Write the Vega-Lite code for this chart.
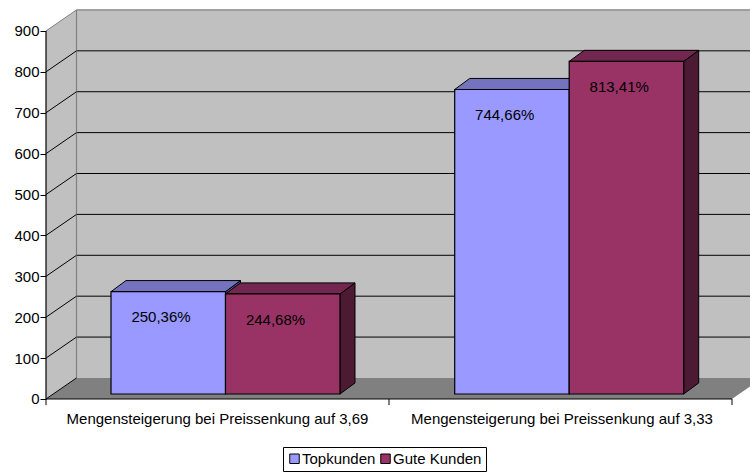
{
"$schema":"https://vega.github.io/schema/vega-lite/v6.json",
"width":704,"height":473,
"autosize":"none",
"padding":{"left":46,"top":0,"right":0,"bottom":0},
"background":"white",
"config":{"view":{"stroke":null},"font":"Liberation Sans"},
"datasets":{
"bars":[
{"category":"Mengensteigerung bei Preissenkung auf 3,69","series":"Topkunden","value":250.36,"label":"250,36%"},
{"category":"Mengensteigerung bei Preissenkung auf 3,69","series":"Gute Kunden","value":244.68,"label":"244,68%"},
{"category":"Mengensteigerung bei Preissenkung auf 3,33","series":"Topkunden","value":744.66,"label":"744,66%"},
{"category":"Mengensteigerung bei Preissenkung auf 3,33","series":"Gute Kunden","value":813.41,"label":"813,41%"}
],
"ticks":[{"tick":0},{"tick":100},{"tick":200},{"tick":300},{"tick":400},{"tick":500},{"tick":600},{"tick":700},{"tick":800},{"tick":900}],
"leftWall":[{"x":0,"low":0,"high":900},{"x":30.5,"low":51.4,"high":951.4}],
"floor":[{"y":0,"from":0,"to":686},{"y":51.4,"from":30.5,"to":716.5}],
"cats":[{"category":"Mengensteigerung bei Preissenkung auf 3,69","pos":171.5},{"category":"Mengensteigerung bei Preissenkung auf 3,33","pos":516}],
"cuts":[{"pos":0},{"pos":343},{"pos":686}]
},
"data":{"name":"bars"},
"transform":[
{"calculate":"[0,1]","as":"t"},
{"flatten":["t"]},
{"calculate":"65+(indexof(datum.category,'3,69')>=0?0:343.7)+(datum.series==='Topkunden'?0:114.5)","as":"x0"},
{"calculate":"datum.x0+114.5","as":"x1"},
{"calculate":"datum.x0+datum.t*15","as":"topL"},
{"calculate":"datum.x1+datum.t*15","as":"topR"},
{"calculate":"12.2+datum.t*27","as":"low"},
{"calculate":"12.2+datum.value+datum.t*27","as":"high"},
{"calculate":"datum.x0+50","as":"labelX"},
{"calculate":"12.2+datum.value-63","as":"labelY"},
{"calculate":"datum.category+datum.series","as":"key"}
],
"layer":[
{"data":{"values":[{}]},"transform":[],"mark":{"type":"rect","fill":"#C0C0C0","clip":true},
 "encoding":{"x":{"datum":30.5,"type":"quantitative","scale":{"domain":[0,704]},"axis":null},"x2":{"datum":716.5},
 "y":{"datum":51.4,"type":"quantitative","scale":{"domain":[-181,975.7]},"axis":null},"y2":{"datum":951.4}}},
{"data":{"name":"leftWall"},"transform":[],"mark":{"type":"area","fill":"#C0C0C0"},
 "encoding":{"x":{"field":"x","type":"quantitative","scale":{"domain":[0,704]},"axis":null},
 "y":{"field":"low","type":"quantitative","scale":{"domain":[-181,975.7]},"axis":null},"y2":{"field":"high"}}},
{"data":{"name":"floor"},"transform":[],"mark":{"type":"area","orient":"horizontal","fill":"#808080","clip":true},
 "encoding":{"y":{"field":"y","type":"quantitative","scale":{"domain":[-181,975.7]},"axis":null},
 "x":{"field":"from","type":"quantitative","scale":{"domain":[0,704]},"axis":null},"x2":{"field":"to"}}},
{"data":{"name":"ticks"},"transform":[{"filter":"datum.tick>0 && datum.tick<900"},{"calculate":"datum.tick+51.4","as":"back"}],
 "mark":{"type":"rule","color":"#000000","strokeWidth":1,"clip":true},
 "encoding":{"x":{"datum":30.5,"type":"quantitative","scale":{"domain":[0,704]},"axis":null},"x2":{"datum":716.5},
 "y":{"field":"back","type":"quantitative","scale":{"domain":[-181,975.7]},"axis":null}}},
{"data":{"name":"ticks"},"transform":[{"filter":"datum.tick==900"},{"calculate":"datum.tick+51.4","as":"back"}],
 "mark":{"type":"rule","color":"#808080","strokeWidth":1.2,"clip":true},
 "encoding":{"x":{"datum":30.5,"type":"quantitative","scale":{"domain":[0,704]},"axis":null},"x2":{"datum":716.5},
 "y":{"field":"back","type":"quantitative","scale":{"domain":[-181,975.7]},"axis":null}}},
{"data":{"values":[{}]},"transform":[],"mark":{"type":"rule","color":"#808080","strokeWidth":1.2},
 "encoding":{"x":{"datum":30.5,"type":"quantitative","scale":{"domain":[0,704]},"axis":null},
 "y":{"datum":51.4,"type":"quantitative","scale":{"domain":[-181,975.7]},"axis":null},"y2":{"datum":951.4}}},
{"data":{"name":"ticks"},"transform":[{"calculate":"datum.tick+51.4","as":"back"},{"calculate":"datum.tick==900?'g':'k'","as":"shade"}],
 "mark":{"type":"rule","strokeWidth":1},
 "encoding":{"x":{"datum":0,"type":"quantitative","scale":{"domain":[0,704]},"axis":null},"x2":{"datum":30.5},
 "y":{"field":"tick","type":"quantitative","scale":{"domain":[-181,975.7]},"axis":null},"y2":{"field":"back"},
 "color":{"field":"shade","type":"nominal","scale":{"domain":["g","k"],"range":["#808080","#000000"]},"legend":null}}},
{"transform":[],"data":{"name":"ticks"},"mark":{"type":"rule","color":"#000000","opacity":0},
 "encoding":{"y":{"field":"tick","type":"quantitative","scale":{"domain":[-181,975.7]},
 "axis":{"values":[0,100,200,300,400,500,600,700,800,900],"title":null,"domain":false,"grid":false,"ticks":true,"tickColor":"#000000","tickSize":6,"labelColor":"#000000","labelFont":"Liberation Sans","labelFontSize":15,"labelPadding":1}}}},
{"mark":{"type":"area","stroke":"#000000","strokeWidth":1},
 "encoding":{"x":{"field":"x1","type":"quantitative","scale":{"domain":[0,704]},"axis":null},
 "y":{"field":"low","type":"quantitative","scale":{"domain":[-181,975.7]},"axis":null},"y2":{"field":"high"},
 "detail":{"field":"key"},
 "color":{"field":"series","type":"nominal","scale":{"domain":["Topkunden","Gute Kunden"],"range":["#4D4D80","#4D1A33"]},"legend":null}},
 "transform":[{"calculate":"datum.x1+datum.t*15","as":"x1"}]},
{"mark":{"type":"area","orient":"horizontal","stroke":"#000000","strokeWidth":1},
 "encoding":{"y":{"field":"high","type":"quantitative","scale":{"domain":[-181,975.7]},"axis":null},
 "x":{"field":"topL","type":"quantitative","scale":{"domain":[0,704]},"axis":null},"x2":{"field":"topR"},
 "detail":{"field":"key"},
 "color":{"field":"series","type":"nominal","scale":{"domain":["Topkunden","Gute Kunden"],"range":["#7373BF","#732650"]},"legend":null}}},
{"transform":[{"filter":"datum.t==0"}],"mark":{"type":"rect","stroke":"#000000","strokeWidth":1.2},
 "encoding":{"x":{"field":"x0","type":"quantitative","scale":{"domain":[0,704]},"axis":null},"x2":{"field":"x1"},
 "y":{"field":"low","type":"quantitative","scale":{"domain":[-181,975.7]},"axis":null},"y2":{"field":"high"},
 "color":{"field":"series","type":"nominal","title":null,"scale":{"domain":["Topkunden","Gute Kunden"],"range":["#9999FF","#993366"]},
 "legend":{"orient":"none","legendX":237,"legendY":447,"direction":"horizontal","columns":2,"title":null,"strokeColor":"#000000","fillColor":"#FFFFFF","padding":4,"symbolType":"square","symbolSize":90,"symbolStrokeColor":"#000000","symbolStrokeWidth":1,"labelFont":"Liberation Sans","labelFontSize":15,"labelColor":"#000000","columnPadding":2,"labelOffset":0}}}},
{"transform":[{"filter":"datum.t==0"}],"mark":{"type":"text","font":"Liberation Sans","fontSize":15,"color":"#000000","baseline":"middle"},
 "encoding":{"x":{"field":"labelX","type":"quantitative","scale":{"domain":[0,704]},"axis":null},
 "y":{"field":"labelY","type":"quantitative","scale":{"domain":[-181,975.7]},"axis":null},
 "text":{"field":"label"}}},
{"data":{"name":"cuts"},"transform":[],"mark":{"type":"rule","color":"#000000"},
 "encoding":{"x":{"field":"pos","type":"quantitative","scale":{"domain":[0,704]},"axis":null},
 "y":{"datum":0,"type":"quantitative","scale":{"domain":[-181,975.7]},"axis":null},"y2":{"datum":-15}}},
{"data":{"values":[{}]},"transform":[],"mark":{"type":"rule","color":"#000000","strokeWidth":1.2},
 "encoding":{"x":{"datum":0,"type":"quantitative","scale":{"domain":[0,704]},"axis":null},"x2":{"datum":686},
 "y":{"datum":0,"type":"quantitative","scale":{"domain":[-181,975.7]},"axis":null}}},
{"data":{"values":[{}]},"transform":[],"mark":{"type":"rule","color":"#000000","strokeWidth":1.2},
 "encoding":{"x":{"datum":0,"type":"quantitative","scale":{"domain":[0,704]},"axis":null},
 "y":{"datum":0,"type":"quantitative","scale":{"domain":[-181,975.7]},"axis":null},"y2":{"datum":900}}},
{"data":{"name":"cats"},"transform":[],"mark":{"type":"text","font":"Liberation Sans","fontSize":15,"color":"#000000","baseline":"middle"},
 "encoding":{"x":{"field":"pos","type":"quantitative","scale":{"domain":[0,704]},"axis":null},
 "y":{"datum":-49,"type":"quantitative","scale":{"domain":[-181,975.7]},"axis":null},
 "text":{"field":"category"}}}
],
"resolve":{"scale":{"color":"independent"},"axis":{"y":"independent"}}
}
